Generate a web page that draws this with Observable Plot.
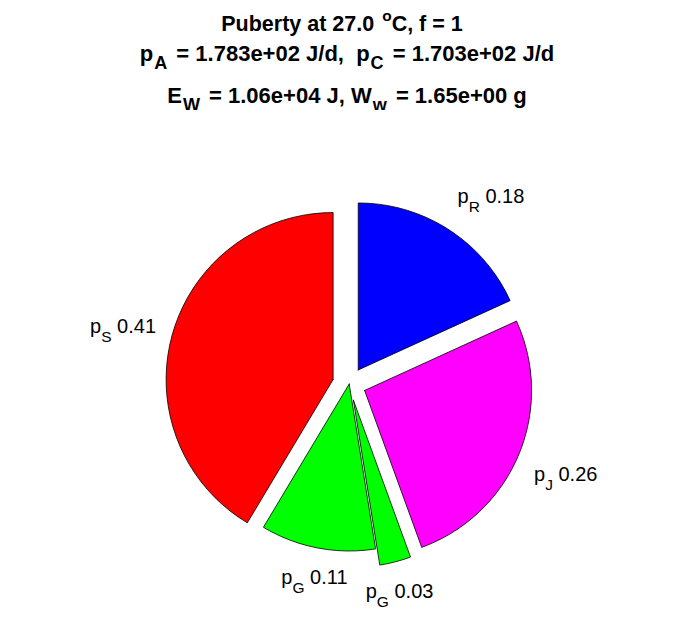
<!DOCTYPE html>
<html><head><meta charset="utf-8">
<script src="https://cdn.jsdelivr.net/npm/d3@7"></script>
<script src="https://cdn.jsdelivr.net/npm/@observablehq/plot@0.6"></script>
<style>
body{margin:0;background:#fff;}
#wrap{position:relative;width:696px;height:618px;font-family:"Liberation Sans",Arial,sans-serif;color:#000;}
#title{position:absolute;left:0;top:0;width:696px;height:110px;}
.tl{position:absolute;left:0;width:694px;text-align:center;font-weight:bold;font-size:22px;line-height:22px;white-space:pre;}
.sb{font-size:82%;position:relative;top:0.42em;margin-right:3px;margin-left:1px;}
.sp{font-size:72%;position:relative;top:-0.62em;margin-left:2px;}
#chart{position:absolute;left:0;top:110px;}
</style></head>
<body><div id="wrap"><div id="title">
<div class="tl" style="top:13px;width:684px;font-size:21.5px">Puberty at 27.0 <span class="sp">o</span>C, f = 1</div>
<div class="tl" style="top:43px">p<span class="sb">A</span> = 1.783e+02 J/d,  p<span class="sb">C</span> = 1.703e+02 J/d</div>
<div class="tl" style="top:85px">E<span class="sb">W</span> = 1.06e+04 J, W<span class="sb">w</span> = 1.65e+00 g</div>
</div><div id="chart"></div></div>
<script>
// data
const names = ["p", "p", "p", "p", "p"];
const subs = ["R", "J", "G", "G", "S"];
const values = [0.18, 0.26, 0.03, 0.11, 0.41];
const explode = [1, 1, 1, 0, 1];
const colors = ["#0000ff", "#ff00ff", "#00ff00", "#00ff00", "#ff0000"];

// layout
const W = 696, H = 508, R = 167, cx = 348.7, cy = 383.5 - 110;
const EXP = 0.1, LAB = 1.1;
const baseShift = {bottom: -12, middle: 2, top: 20};

const total = d3.sum(values);
let acc = 0;
const slices = values.map((v, i) => {
  const f = v / total;
  const a0 = acc * 2 * Math.PI; acc += f;
  const a1 = acc * 2 * Math.PI;
  return {i, f, a0, a1, mid: (a0 + a1) / 2};
});

const pts = [];
const labels = [];
slices.forEach(s => {
  const off = explode[s.i] ? EXP : 0;
  const dx = Math.sin(s.mid), dy = Math.cos(s.mid);
  const ox = off * dx, oy = off * dy;
  const n = Math.max(1, Math.ceil(100 * s.f));
  pts.push({key: s.i, x: ox, y: oy, color: colors[s.i]});
  for (let k = 0; k <= n; k++) {
    const a = s.a0 + (s.a1 - s.a0) * k / n;
    pts.push({key: s.i, x: ox + Math.sin(a), y: oy + Math.cos(a), color: colors[s.i]});
  }
  pts.push({key: s.i, x: ox, y: oy, color: colors[s.i]});
  const h = dx > 0.34 ? "start" : dx < -0.34 ? "end" : "middle";
  const v = dy > 0.34 ? "bottom" : dy < -0.34 ? "top" : "middle";
  labels.push({x: ox + LAB * dx, y: oy + LAB * dy, text: `${names[s.i]}_${subs[s.i]} ${values[s.i].toFixed(2)}`, h, v});
});

const groups = d3.groups(labels, d => d.h + "|" + d.v);
const labelMarks = groups.map(([k, arr]) => Plot.text(arr, {
  x: "x", y: "y", text: "text", textAnchor: arr[0].h, lineAnchor: "middle",
  dy: baseShift[arr[0].v], fontSize: 20, fill: "black"
}));

const chart = Plot.plot({
  width: W, height: H, margin: 0,
  x: {axis: null, domain: [-cx / R, (W - cx) / R]},
  y: {axis: null, domain: [-(H - cy) / R, cy / R]},
  color: {type: "identity"},
  style: {fontFamily: "'Liberation Sans', Arial, sans-serif", background: "white"},
  marks: [
    Plot.line(pts, {x: "x", y: "y", z: "key", fill: "color", stroke: "black", strokeWidth: 0.8, strokeLinejoin: "miter"}),
    ...labelMarks
  ]
});

// rich text: subscripts (baseline placed at anchor + dy)
const ns = "http://www.w3.org/2000/svg";
chart.querySelectorAll("text").forEach(el => {
  const t = el.textContent;
  const m = t.match(/^([a-zA-Z]+)_([a-zA-Z]+) (.*)$/);
  if (!m) return;
  el.removeAttribute("y"); el.removeAttribute("dy");
  el.textContent = "";
  const a = document.createElementNS(ns, "tspan"); a.textContent = m[1]; el.appendChild(a);
  const b = document.createElementNS(ns, "tspan"); b.textContent = m[2];
  b.setAttribute("font-size", "15.5"); b.setAttribute("dy", "9"); el.appendChild(b);
  const c = document.createElementNS(ns, "tspan"); c.textContent = "\u00a0" + m[3];
  c.setAttribute("dy", "-9"); el.appendChild(c);
});

document.getElementById("chart").appendChild(chart);
</script>
</body></html>
